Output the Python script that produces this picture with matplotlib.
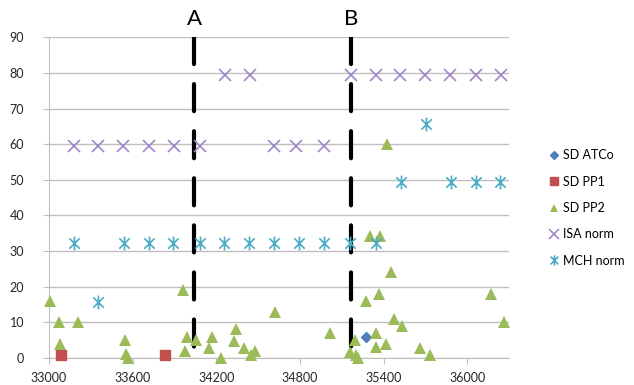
import matplotlib
matplotlib.use("Agg")
import matplotlib.pyplot as plt
from matplotlib.path import Path

plt.rcParams['font.family'] = ['Lato', 'DejaVu Sans']

# data
atco_x = [35271]
atco_y = [6]

pp1_x = [33084, 33834]
pp1_y = [0.9, 0.9]

pp2_x = [33007, 33072, 33211, 33077, 33546, 33555, 33570,
         33963, 33987, 33977, 34058, 34169, 34145, 34234, 34342, 34329,
         34401, 34449, 34480, 34624,
         35019, 35276, 35348, 35192, 35161, 35204, 35215, 35343, 35420,
         35300, 35376, 35450, 35366, 35472, 35535, 35659, 35736, 36174,
         36262, 35422]
pp2_y = [16, 10, 10, 4, 5, 1, 0,
         19.2, 6, 2, 5, 6, 2.7, 0, 8, 4.8,
         2.7, 0.85, 2, 13,
         7, 16, 7, 5, 1.8, 0.85, 0, 3, 4,
         34.3, 34.3, 24, 18, 11, 9, 2.7, 0.85, 18,
         10, 60]

isa_x = [33180, 33350, 33530, 33720, 33900, 34085, 34265, 34445, 34615,
         34775, 34975, 35165, 35345, 35520, 35700, 35880, 36060, 36240]
isa_y = [59.4, 59.4, 59.4, 59.4, 59.4, 59.4, 79.4, 79.4, 59.4,
         59.4, 59.4, 79.4, 79.4, 79.4, 79.4, 79.4, 79.4, 79.4]

mch_x = [33180, 33354, 33539, 33719, 33891, 34085, 34258, 34437, 34617,
         34797, 34976, 35156, 35343, 35522, 35702, 35882, 36061, 36234]
mch_y = [32.3, 15.6, 32.3, 32.3, 32.3, 32.3, 32.3, 32.3, 32.3,
         32.3, 32.3, 32.3, 32.3, 49.3, 65.6, 49.3, 49.3, 49.3]

markers_at = [34042, 35170]
marker_names = ['A', 'B']

# excel style star marker: x plus vertical bar
star = Path([(0, -1), (0, 1), (-0.75, -0.75), (0.75, 0.75), (-0.75, 0.75), (0.75, -0.75)],
            [Path.MOVETO, Path.LINETO, Path.MOVETO, Path.LINETO, Path.MOVETO, Path.LINETO])

fig = plt.figure(figsize=(6.34, 3.85), dpi=100)
ax = fig.add_axes([49/634, 1 - 358/385, 460/634, (358 - 37.3)/385])

grid_col = '#BFBFBF'
ax.set_xlim(33000, 36300)
ax.set_ylim(0, 90)
ax.set_yticks(range(0, 91, 10))
ax.set_xticks([33000, 33600, 34200, 34800, 35400, 36000])
ax.yaxis.grid(True, color=grid_col, lw=1)
ax.set_axisbelow(True)
for s in ['top', 'right']:
    ax.spines[s].set_visible(False)
ax.spines['left'].set_color(grid_col)
ax.spines['bottom'].set_color(grid_col)
ax.tick_params(axis='both', colors=grid_col, labelcolor='#262626', labelsize=9, length=4)
ax.tick_params(axis='y', pad=14)
ax.tick_params(axis='x', pad=6)

for xv, name in zip(markers_at, marker_names):
    ax.plot([xv, xv], [90, 0], color='black', lw=3, linestyle=(0, (6.5, 4.8)),
            dash_capstyle='round', zorder=2)
    ax.text(xv, 92.3, name, ha='center', va='bottom', fontsize=16, clip_on=False)

ax.plot(atco_x, atco_y, 'D', color='#4F81BD', ms=5.6, label='SD ATCo', clip_on=False, zorder=3)
ax.plot(pp1_x, pp1_y, 's', color='#C0504D', ms=7.2, label='SD PP1', clip_on=False, zorder=3)
ax.plot(pp2_x, pp2_y, '^', color='#9BBB59', ms=8, mew=0, label='SD PP2', clip_on=False, zorder=3)
ax.plot(isa_x, isa_y, 'x', color='#9E86C8', ms=9, mew=1.2, label='ISA norm', clip_on=False, zorder=3)
ax.plot(mch_x, mch_y, linestyle='none', marker=star, color='#4BACC6', ms=10, mew=1.2,
        label='MCH norm', clip_on=False, zorder=3)

fig.legend(loc='center left', bbox_to_anchor=(543/634, 1 - 208/385), frameon=False,
           fontsize=9, labelspacing=1.15, handlelength=0.8, handletextpad=0.3,
           markerscale=0.75, borderpad=0)

fig.savefig('out.png', dpi=100)
